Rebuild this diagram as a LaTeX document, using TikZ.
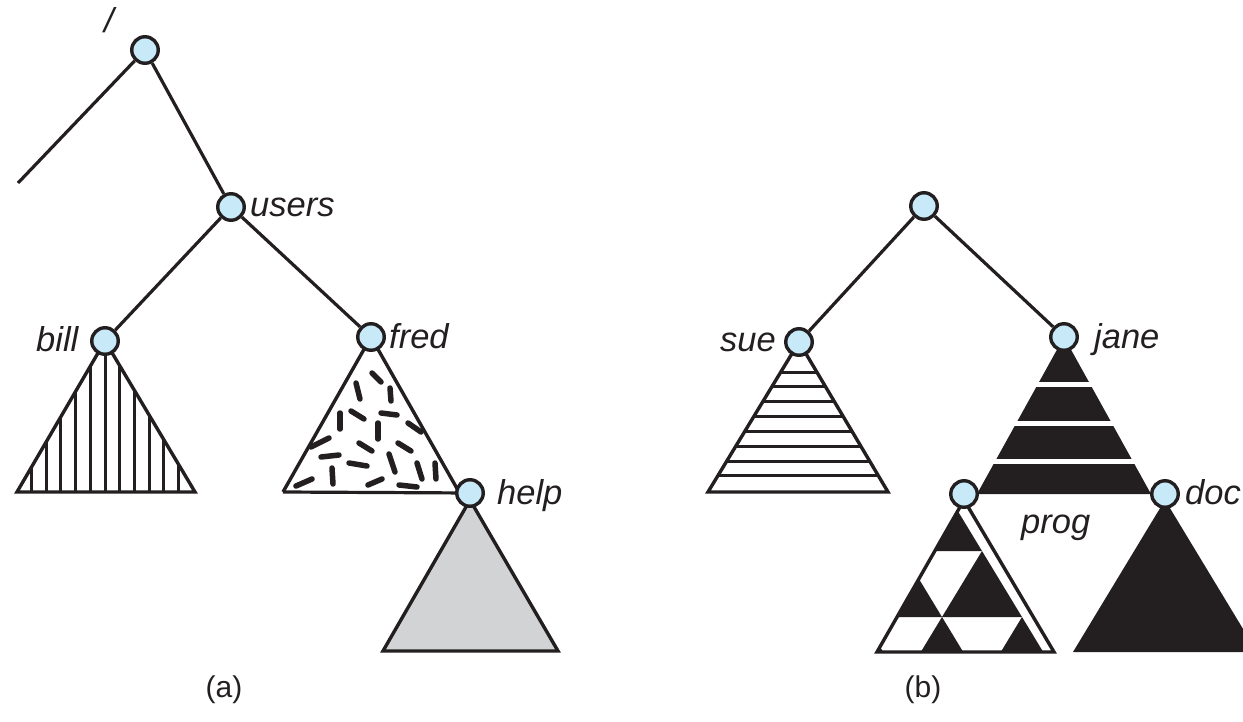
\documentclass[tikz,border=0pt]{standalone}
\usepackage{fontspec}
\setmainfont{Liberation Sans}
\definecolor{nodeblue}{HTML}{C7E9F8}
\definecolor{helpgrey}{HTML}{D1D3D4}
\definecolor{inkblack}{HTML}{231F20}
\begin{document}
\begin{tikzpicture}[x=1pt,y=-1pt,
  dirnode/.style={circle, draw=inkblack, fill=nodeblue, line width=3.4pt, minimum size=26.5pt, inner sep=0pt},
  lbl/.style={font=\fontsize{34.5}{40}\selectfont\itshape, inner sep=0pt, anchor=base west, text=inkblack},
  caplbl/.style={font=\fontsize{30}{36}\selectfont, inner sep=0pt, text=inkblack},
  edge/.style={line width=3.2pt, draw=inkblack},
  outline/.style={line width=3.4pt, draw=inkblack, line join=miter},
  hatch/.style={line width=3pt, draw=inkblack},
  dashbit/.style={line width=5.5pt, draw=inkblack, line cap=round}]
\useasboundingbox (0,0) rectangle (1243,722);

% ---------- (a) triangles ----------
% bill: vertical hatching
\begin{scope}
  \clip (105,341) -- (17,492) -- (195,492) -- cycle;
  \foreach \k in {-6,...,6} {
    \draw[hatch] ({105+14.7*\k},330) -- ({105+14.7*\k},500);
  }
\end{scope}
\draw[outline] (105,341) -- (17,492) -- (195,492) -- cycle;

% fred: random dashes
\fill[white] (371,337) -- (283,492) -- (459,492) -- cycle;
\foreach \a/\b/\c/\d in {
  372/373/381/382, 356/383/360/399, 390/388/391/401, 351/411/364/419,
  340/413/340/429, 381/413/397/415, 378/423/378/439, 408/423/421/432,
  311/447/329/438, 359/443/372/451, 398/443/411/451, 321/457/339/455,
  349/463/367/466, 332/468/333/484, 389/454/395/472, 417/463/422/479,
  435/463/436/479, 296/486/312/479, 368/485/382/479, 399/485/417/487} {
  \draw[dashbit] (\a,\b) -- (\c,\d);
}
\draw[outline] (283,492) -- (371,337) -- (459,492);

% help: grey
\draw[outline, fill=helpgrey] (470,500) -- (383,651) -- (558,651) -- cycle;

% ---------- (b) triangles ----------
% sue: horizontal hatching
\begin{scope}
  \clip (799,342) -- (708,492) -- (888,492) -- cycle;
  \foreach \k in {0,...,7} {
    \draw[hatch] (700,{372+14.85*\k}) -- (900,{372+14.85*\k});
  }
\end{scope}
\draw[outline] (799,342) -- (708,492) -- (888,492) -- cycle;

% jane: black with white bands
\fill[inkblack] (1064,337) -- (977,494) -- (1151,494) -- cycle;
\foreach \yy in {384.5,423.5,461.5} {
  \fill[white] (960,{\yy-2.8}) rectangle (1170,{\yy+2.8});
}

% prog: triangular checker pattern
\fill[white] (964,500) -- (877,652) -- (1054,652) -- cycle;
\begin{scope}
  \clip (964,500) -- (877,652) -- (1054,652) -- cycle;
  \fill[inkblack] (942,485) -- (902,551) -- (982,551) -- cycle;
  \fill[inkblack] (902,551) -- (862,617) -- (942,617) -- cycle;
  \fill[inkblack] (982,551) -- (942,617) -- (1022,617) -- cycle;
  \fill[inkblack] (862,617) -- (822,683) -- (902,683) -- cycle;
  \fill[inkblack] (942,617) -- (902,683) -- (982,683) -- cycle;
  \fill[inkblack] (1022,617) -- (982,683) -- (1062,683) -- cycle;
\end{scope}
\draw[outline] (964,500) -- (877,652) -- (1054,652) -- cycle;

% doc: black
\fill[inkblack] (1165,500) -- (1073,652) -- (1257,652) -- cycle;

% ---------- nodes ----------
\node[dirnode] (root) at (145,50) {};
\node[dirnode] (users) at (231,207) {};
\node[dirnode] (bill) at (105,341) {};
\node[dirnode] (fred) at (371,337) {};
\node[dirnode] (help) at (470,493) {};
\coordinate (freeend) at (18,183);
\coordinate (fredL) at (283,492);

\node[dirnode] (rootb) at (924,206) {};
\node[dirnode] (sue) at (799,342) {};
\node[dirnode] (jane) at (1064,337) {};
\node[dirnode] (prog) at (964,494) {};
\node[dirnode] (doc) at (1165,494) {};

% ---------- connectors ----------
\draw[edge] (freeend) -- (root);
\draw[edge] (root) -- (users);
\draw[edge] (users) -- (bill);
\draw[edge] (users) -- (fred);
\draw[edge] (fredL) -- (help);
\draw[edge] (rootb) -- (sue);
\draw[edge] (rootb) -- (jane);

% ---------- labels ----------
\node[lbl] (slash) at (104,33) {/};
\node[lbl] (usersl) at (250,217) {users};
\node[lbl] (billl) at (36,352) {bill};
\node[lbl] (fredl) at (389,348) {fred};
\node[lbl] (helpl) at (497,504) {help};
\node[lbl] (suel) at (720,352) {sue};
\node[lbl] (janel) at (1094,348) {jane};
\node[lbl] (progl) at (1021,533) {prog};
\node[lbl] (docl) at (1185,504) {doc};
\node[caplbl] (capa) at (224,690) {(a)};
\node[caplbl] (capb) at (923,690) {(b)};
\end{tikzpicture}
\end{document}
